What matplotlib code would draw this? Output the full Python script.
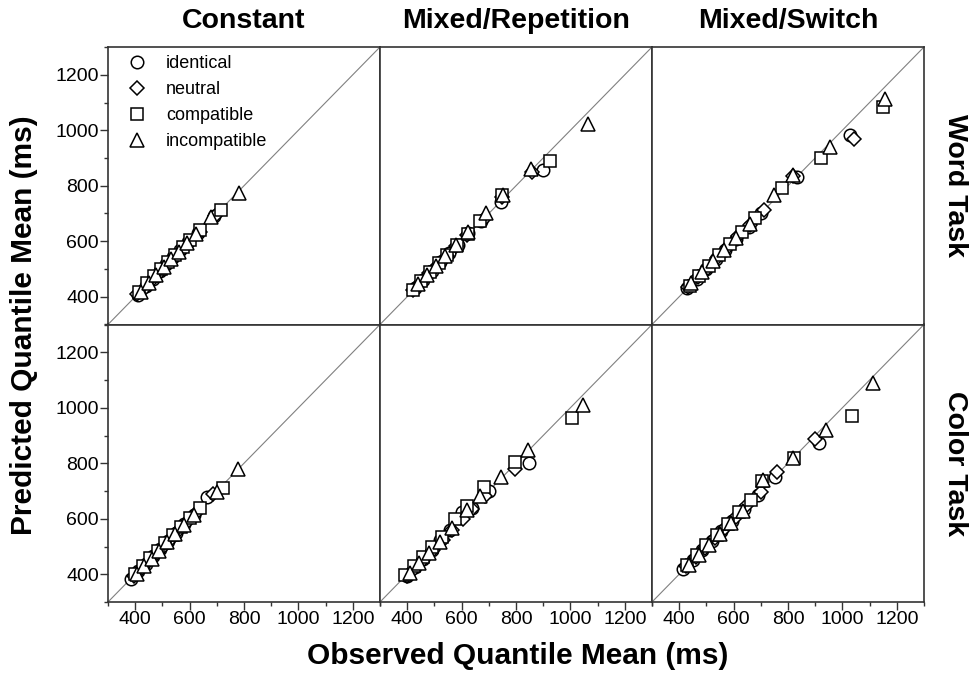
import matplotlib
matplotlib.use("Agg")
import matplotlib.pyplot as plt
from matplotlib.ticker import MultipleLocator

plt.rcParams['font.family'] = ['Liberation Sans', 'DejaVu Sans']

conditions = ["identical", "neutral", "compatible", "incompatible"]
markers = ["o", "D", "s", "^"]
marker_sizes = [9, 7, 8.5, 10]
col_titles = ["Constant", "Mixed/Repetition", "Mixed/Switch"]
row_titles = ["Word Task", "Color Task"]
tick_values = [400, 600, 800, 1000, 1200]

# ---- Word task ----
wc_obs = {
    "identical":    [410, 440, 465, 490, 515, 540, 565, 595, 630, 690],
    "neutral":      [408, 438, 462, 488, 512, 538, 565, 595, 640, 695],
    "compatible":   [415, 445, 470, 495, 520, 548, 575, 600, 640, 715],
    "incompatible": [420, 450, 478, 505, 532, 560, 590, 625, 680, 780],
}
wc_pred = {
    "identical":    [405, 438, 465, 492, 518, 543, 568, 597, 628, 690],
    "neutral":      [410, 435, 460, 485, 510, 535, 562, 592, 632, 692],
    "compatible":   [418, 448, 474, 500, 525, 552, 580, 605, 640, 712],
    "incompatible": [418, 450, 480, 508, 535, 562, 592, 625, 686, 775],
}
wr_obs = {
    "identical":    [428, 458, 490, 520, 552, 585, 625, 670, 745, 900],
    "neutral":      [422, 450, 480, 512, 545, 580, 620, 680, 750, 860],
    "compatible":   [422, 452, 484, 516, 548, 582, 622, 668, 750, 925],
    "incompatible": [440, 472, 505, 540, 578, 625, 690, 752, 855, 1065],
}
wr_pred = {
    "identical":    [432, 462, 493, 524, 556, 588, 628, 672, 740, 858],
    "neutral":      [425, 454, 484, 515, 548, 582, 622, 678, 758, 850],
    "compatible":   [425, 456, 488, 520, 552, 586, 626, 672, 765, 890],
    "incompatible": [445, 478, 512, 548, 585, 632, 700, 768, 862, 1022],
}
ws_obs = {
    "identical":    [430, 465, 500, 535, 570, 610, 655, 700, 832, 1028],
    "neutral":      [432, 468, 505, 540, 578, 618, 660, 710, 820, 1043],
    "compatible":   [438, 472, 510, 548, 588, 630, 680, 777, 920, 1150],
    "incompatible": [445, 485, 525, 565, 610, 660, 749, 817, 954, 1157],
}
ws_pred = {
    "identical":    [432, 465, 500, 535, 570, 608, 652, 700, 830, 983],
    "neutral":      [435, 470, 505, 540, 578, 618, 660, 712, 835, 967],
    "compatible":   [440, 476, 512, 550, 590, 632, 682, 791, 899, 1085],
    "incompatible": [448, 488, 528, 568, 612, 662, 767, 839, 941, 1112],
}

# ---- Color task ----
cc_obs = {
    "identical":    [383, 410, 438, 465, 492, 520, 550, 580, 615, 665],
    "neutral":      [395, 420, 448, 475, 502, 530, 560, 590, 625, 685],
    "compatible":   [400, 428, 455, 482, 510, 540, 570, 602, 640, 722],
    "incompatible": [405, 432, 460, 488, 518, 548, 580, 615, 700, 779],
}
cc_pred = {
    "identical":    [383, 410, 438, 465, 492, 520, 550, 580, 615, 680],
    "neutral":      [393, 418, 445, 472, 500, 528, 558, 588, 622, 688],
    "compatible":   [402, 430, 458, 485, 512, 542, 572, 604, 640, 711],
    "incompatible": [400, 428, 456, 485, 515, 545, 578, 612, 695, 780],
}
cr_obs = {
    "identical":    [398, 428, 458, 490, 522, 558, 600, 640, 700, 848],
    "neutral":      [400, 430, 462, 495, 530, 565, 605, 640, 686, 797],
    "compatible":   [392, 425, 458, 492, 528, 576, 621, 681, 797, 1005],
    "incompatible": [410, 445, 480, 520, 565, 619, 667, 745, 843, 1048],
}
cr_pred = {
    "identical":    [395, 425, 455, 488, 522, 560, 623, 640, 700, 800],
    "neutral":      [392, 422, 455, 488, 522, 558, 598, 635, 683, 780],
    "compatible":   [396, 428, 462, 498, 535, 599, 647, 713, 804, 964],
    "incompatible": [405, 440, 477, 518, 565, 630, 683, 750, 847, 1010],
}
cs_obs = {
    "identical":    [415, 450, 485, 520, 555, 595, 640, 690, 752, 915],
    "neutral":      [425, 460, 495, 530, 568, 608, 650, 700, 758, 900],
    "compatible":   [430, 465, 500, 538, 578, 620, 665, 703, 822, 1036],
    "incompatible": [435, 472, 510, 550, 590, 635, 709, 817, 939, 1111],
}
cs_pred = {
    "identical":    [420, 452, 486, 520, 555, 592, 635, 685, 752, 874],
    "neutral":      [428, 462, 496, 530, 566, 605, 648, 698, 768, 889],
    "compatible":   [432, 468, 504, 542, 582, 624, 668, 737, 820, 971],
    "incompatible": [432, 468, 505, 545, 585, 628, 741, 820, 919, 1089],
}

panels = [
    [(wc_obs, wc_pred), (wr_obs, wr_pred), (ws_obs, ws_pred)],
    [(cc_obs, cc_pred), (cr_obs, cr_pred), (cs_obs, cs_pred)],
]

W, H = 976, 677
fig = plt.figure(figsize=(W / 100, H / 100), dpi=100)
left, right = 108 / W, 924 / W
top, bottom = 1 - 47 / H, 1 - 602 / H
pw = (right - left) / 3
ph = (top - bottom) / 2

lo, hi = 300, 1300
spine_color = "#333333"

for r in range(2):
    for c in range(3):
        ax = fig.add_axes([left + c * pw, top - (r + 1) * ph, pw, ph])
        ax.plot([lo, hi], [lo, hi], color="#808080", lw=0.8, zorder=1)
        obs, pred = panels[r][c]
        for cond, m, ms in zip(conditions, markers, marker_sizes):
            ax.plot(obs[cond], pred[cond], linestyle="none", marker=m,
                    markersize=ms, markerfacecolor="white",
                    markeredgecolor="black", markeredgewidth=1.1,
                    label=cond, zorder=3)
        ax.set_xlim(lo, hi)
        ax.set_ylim(lo, hi)
        for s in ax.spines.values():
            s.set_color(spine_color)
            s.set_linewidth(1.2)
        ax.xaxis.set_minor_locator(MultipleLocator(100))
        ax.yaxis.set_minor_locator(MultipleLocator(100))
        ax.set_xticks(tick_values)
        ax.set_yticks(tick_values)
        ax.tick_params(which="both", direction="out", color=spine_color,
                       labelsize=14, pad=1)
        ax.tick_params(which="major", length=5.5, width=1)
        ax.tick_params(which="minor", length=3, width=1)
        show_x = (r == 1)
        show_y = (c == 0)
        ax.tick_params(axis="x", which="both", bottom=show_x, labelbottom=show_x,
                       top=False)
        ax.tick_params(axis="y", which="both", left=show_y, labelleft=show_y,
                       right=False)
        if r == 0 and c == 0:
            ax.legend(loc="upper left", frameon=False, fontsize=13,
                      handlelength=1.5, handletextpad=0.85, labelspacing=0.5,
                      borderpad=0, borderaxespad=0,
                      bbox_to_anchor=(0.057, 0.971))

for c, t in enumerate(col_titles):
    fig.text(left + (c + 0.5) * pw, 1 - 21 / H, t, ha="center", va="center",
             fontsize=20.5, fontweight="bold")

for r, t in enumerate(row_titles):
    fig.text(955 / W, top - (r + 0.5) * ph, t, ha="center", va="center",
             rotation=-90, fontsize=20.5, fontweight="bold")

fig.text(24 / W, 1 - 325 / H, "Predicted Quantile Mean (ms)", ha="center",
         va="center", rotation=90, fontsize=21.5, fontweight="bold")
fig.text(518 / W, 1 - 656 / H, "Observed Quantile Mean (ms)", ha="center",
         va="center", fontsize=21.5, fontweight="bold")

fig.savefig("out.png", dpi=100)
